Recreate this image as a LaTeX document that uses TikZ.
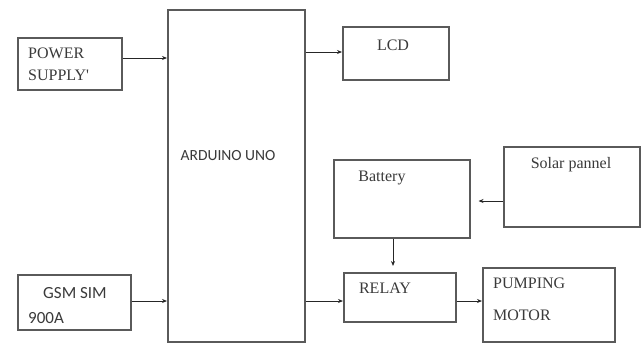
\documentclass[tikz,border=0pt]{standalone}
\usepackage{fontspec}
\setmainfont{Liberation Serif}
\newfontfamily\calib{Carlito}
\usetikzlibrary{arrows.meta}
\definecolor{boxgray}{HTML}{5A5A5A}
\definecolor{txtgray}{HTML}{3A3A3A}
\newcommand{\straightq}{\XeTeXglyph\XeTeXcharglyph"0027\relax}
\tikzset{
  blk/.style={draw=boxgray, line width=1.5pt, anchor=north west, inner sep=0pt, fill=white},
  arr/.style={draw=black!85, line width=0.9pt, -{Stealth[length=5pt,width=4pt]}},
  serif/.style={font=\fontsize{16}{18}\selectfont, text=txtgray, inner sep=0pt},
  sans/.style={font=\calib\fontsize{16}{18}\selectfont, text=txtgray, inner sep=0pt},
}
\begin{document}
\begin{tikzpicture}[x=1pt,y=-1pt]
\useasboundingbox (0,0) rectangle (644,343);
% boxes
\node[blk, minimum width=104pt, minimum height=52pt] (ps) at (17,37) {};
\node[blk, minimum width=113pt, minimum height=55pt] (gsm) at (17,274) {};
\node[blk, minimum width=137pt, minimum height=332pt] (ard) at (167,9) {};
\node[blk, minimum width=106pt, minimum height=53pt] (lcd) at (342,26) {};
\node[blk, minimum width=136pt, minimum height=78pt] (bat) at (333,159) {};
\node[blk, minimum width=136pt, minimum height=80pt] (sol) at (503,146) {};
\node[blk, minimum width=112pt, minimum height=49pt] (rel) at (343,272) {};
\node[blk, minimum width=132pt, minimum height=74pt] (pump) at (482,267) {};
% texts
\node[serif, anchor=west] (t1) at (28,53) {POWER};
\node[serif, anchor=west] (t2) at (28,75) {SUPPLY\straightq};
\node[sans, font=\calib\fontsize{17}{18}\selectfont] (t3) at (75,293) {GSM SIM};
\node[sans, anchor=west, font=\calib\fontsize{17}{18}\selectfont] (t4) at (28,318) {900A};
\node[sans, font=\calib\fontsize{15.5}{18}\selectfont] (t5) at (228,156) {ARDUINO UNO};
\node[serif] (t6) at (393,45) {LCD};
\node[serif] (t7) at (382,178) {Battery};
\node[serif] (t8) at (571,165) {Solar pannel};
\node[serif] (t9) at (385,288) {RELAY};
\node[serif, anchor=west] (t10) at (493,283) {PUMPING};
\node[serif, anchor=west] (t11) at (493,315) {MOTOR};
% connectors
\draw[arr] (ps.east |- 0,58) -- (ard.west |- 0,58);
\draw[arr] (gsm.east |- 0,301) -- (ard.west |- 0,301);
\draw[arr] (ard.east |- 0,52) -- (lcd.west |- 0,52);
\draw[arr] (ard.east |- 0,301) -- (rel.west |- 0,301);
\draw[arr] (rel.east |- 0,301) -- (pump.west |- 0,301);
\draw[arr, shorten >=6pt] (bat.south -| 393,0) -- (rel.north -| 393,0);
\draw[arr, shorten >=8pt] (sol.west |- 0,201) -- (bat.east |- 0,201);
\end{tikzpicture}
\end{document}
